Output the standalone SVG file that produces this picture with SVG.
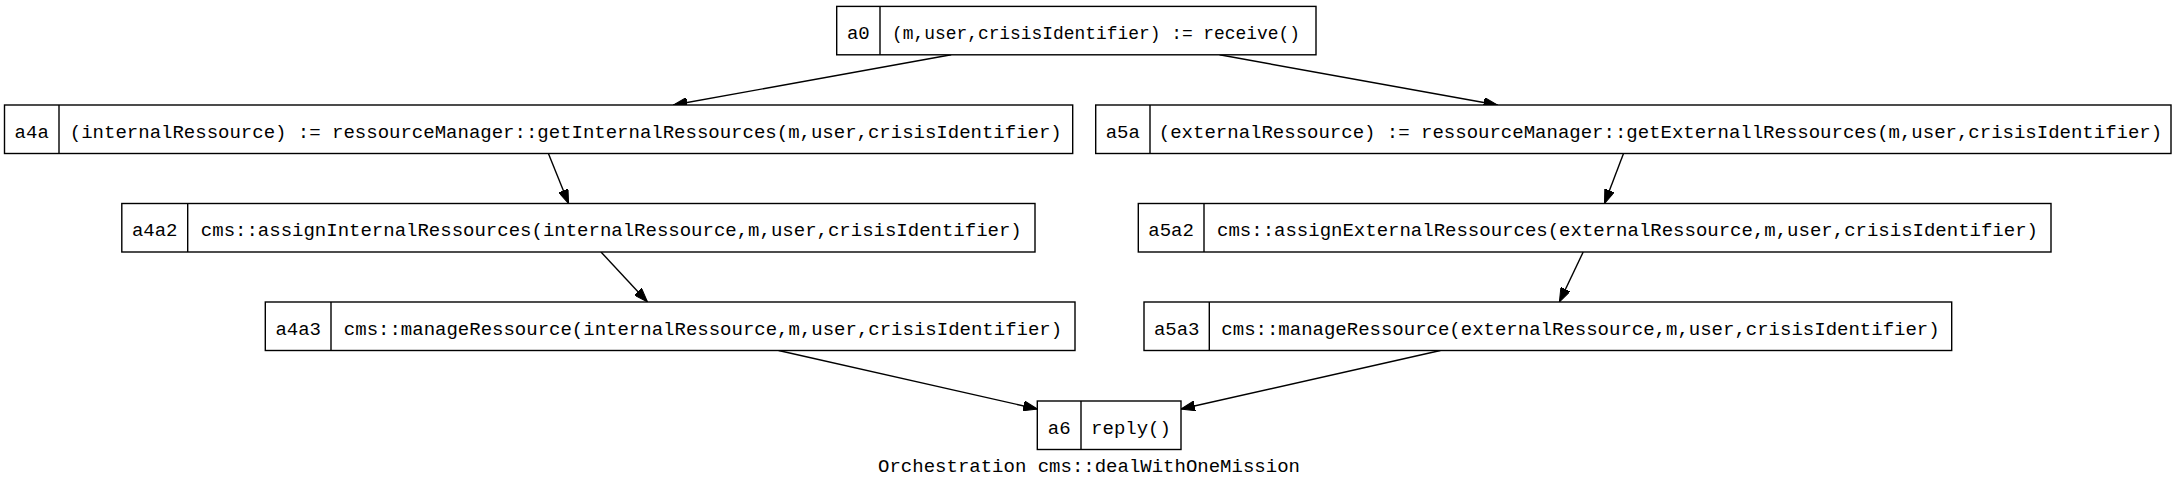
<svg xmlns="http://www.w3.org/2000/svg" width="2179" height="487" viewBox="0 0 2179 487">
<style>
  .box { fill: #ffffff; stroke: #000000; stroke-width: 1.4; }
  .div { stroke: #000000; stroke-width: 1.4; }
  .t { font-family: "Liberation Mono", "Courier New", monospace; font-size: 19px; fill: #000000; text-anchor: middle; }
  .edge { fill: none; stroke: #000000; stroke-width: 1.4; marker-end: url(#arrow); }
</style>
<defs>
  <marker id="arrow" markerUnits="userSpaceOnUse" markerWidth="14" markerHeight="10" refX="14" refY="5" orient="auto">
    <path d="M0,0 L14,5 L0,10 Z" fill="#000000" stroke="#000000" stroke-width="1"/>
  </marker>
</defs>
<rect x="0" y="0" width="2179" height="487" fill="#ffffff"/>

<g id="connectors">
  <line class="edge" x1="951.2" y1="54.8" x2="673.3" y2="105"/>
  <line class="edge" x1="1219.5" y1="54.8" x2="1497.6" y2="105"/>
  <line class="edge" x1="548.4" y1="153.5" x2="568.6" y2="203.5"/>
  <line class="edge" x1="1623.5" y1="153.5" x2="1604.5" y2="203.5"/>
  <line class="edge" x1="601" y1="252" x2="647.5" y2="302"/>
  <line class="edge" x1="1583.2" y1="252" x2="1559.4" y2="302"/>
  <line class="edge" x1="778.6" y1="350.5" x2="1037.3" y2="409"/>
  <line class="edge" x1="1440.4" y1="350.5" x2="1181" y2="409"/>
</g>

<g id="a0">
  <rect class="box" x="836.7" y="6.4" width="479.3" height="48.4"/>
  <line class="div" x1="880" y1="6.4" x2="880" y2="54.8"/>
  <text class="t" x="858.3" y="39.2">a0</text>
  <text class="t" x="1096" y="39.2" textLength="408" lengthAdjust="spacingAndGlyphs">(m,user,crisisIdentifier) := receive()</text>
</g>

<g id="a4a">
  <rect class="box" x="4.5" y="105" width="1068.2" height="48.5"/>
  <line class="div" x1="59" y1="105" x2="59" y2="153.5"/>
  <text class="t" x="31.7" y="137.8">a4a</text>
  <text class="t" x="565.8" y="137.8">(internalRessource) := ressourceManager::getInternalRessources(m,user,crisisIdentifier)</text>
</g>

<g id="a5a">
  <rect class="box" x="1095.7" y="105" width="1075.3" height="48.5"/>
  <line class="div" x1="1150" y1="105" x2="1150" y2="153.5"/>
  <text class="t" x="1122.8" y="137.8">a5a</text>
  <text class="t" x="1660.5" y="137.8">(externalRessource) := ressourceManager::getExternallRessources(m,user,crisisIdentifier)</text>
</g>

<g id="a4a2">
  <rect class="box" x="121.8" y="203.5" width="913.2" height="48.5"/>
  <line class="div" x1="187.7" y1="203.5" x2="187.7" y2="252"/>
  <text class="t" x="154.7" y="236.3">a4a2</text>
  <text class="t" x="611.3" y="236.3">cms::assignInternalRessources(internalRessource,m,user,crisisIdentifier)</text>
</g>

<g id="a5a2">
  <rect class="box" x="1138.3" y="203.5" width="912.7" height="48.5"/>
  <line class="div" x1="1204" y1="203.5" x2="1204" y2="252"/>
  <text class="t" x="1171.1" y="236.3">a5a2</text>
  <text class="t" x="1627.5" y="236.3">cms::assignExternalRessources(externalRessource,m,user,crisisIdentifier)</text>
</g>

<g id="a4a3">
  <rect class="box" x="265.3" y="302" width="809.7" height="48.5"/>
  <line class="div" x1="331" y1="302" x2="331" y2="350.5"/>
  <text class="t" x="298.2" y="334.8">a4a3</text>
  <text class="t" x="703" y="334.8">cms::manageRessource(internalRessource,m,user,crisisIdentifier)</text>
</g>

<g id="a5a3">
  <rect class="box" x="1144" y="302" width="807.7" height="48.5"/>
  <line class="div" x1="1209.3" y1="302" x2="1209.3" y2="350.5"/>
  <text class="t" x="1176.7" y="334.8">a5a3</text>
  <text class="t" x="1580.5" y="334.8">cms::manageRessource(externalRessource,m,user,crisisIdentifier)</text>
</g>

<g id="a6">
  <rect class="box" x="1037.3" y="401" width="143.7" height="48.5"/>
  <line class="div" x1="1081" y1="401" x2="1081" y2="449.5"/>
  <text class="t" x="1059.2" y="433.8">a6</text>
  <text class="t" x="1131" y="433.8">reply()</text>
</g>

<text class="t" x="1089" y="471.7">Orchestration cms::dealWithOneMission</text>
</svg>
